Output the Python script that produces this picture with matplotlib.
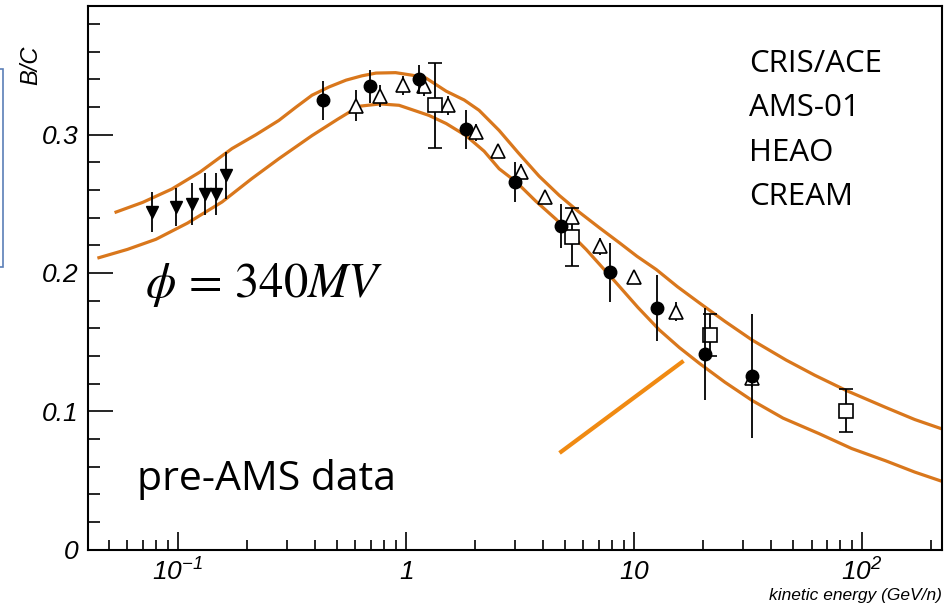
import matplotlib
matplotlib.use('Agg')
import matplotlib.pyplot as plt
from matplotlib.patches import Rectangle
from matplotlib.ticker import LogLocator, MultipleLocator, FixedLocator, FixedFormatter, NullFormatter

# model band (upper / lower modulated B/C)
up_e = [0.0535, 0.07, 0.0941, 0.125, 0.1725, 0.22, 0.277, 0.33, 0.387, 0.46, 0.546, 0.64, 0.738, 0.9,
        1.06, 1.22, 1.50, 1.8, 2.09, 2.56, 3.1, 3.83, 4.7, 5.74, 7.0, 8.59, 10.3, 12.5, 15.5, 19.3,
        25, 32.9, 46.4, 62, 85.1, 127, 170, 222]
up_bc = [0.244, 0.251, 0.2607, 0.273, 0.2899, 0.300, 0.3103, 0.320, 0.3285, 0.3345, 0.3394, 0.3425,
         0.3445, 0.3448, 0.343, 0.341, 0.3314, 0.325, 0.3176, 0.303, 0.287, 0.270, 0.256, 0.244, 0.233,
         0.222, 0.212, 0.2025, 0.190, 0.1784, 0.165, 0.1515, 0.137, 0.126, 0.115, 0.1027, 0.094, 0.0874]
lo_e = [0.045, 0.06, 0.080, 0.11, 0.156, 0.21, 0.277, 0.387, 0.5, 0.622, 0.77, 0.932, 1.26, 1.5, 1.83,
        2.2, 2.56, 3.04, 3.7, 4.54, 6.16, 8.33, 10.4, 12.9, 15.8, 19.3, 25, 32.9, 45, 64.7, 90, 127,
        170, 222]
lo_bc = [0.211, 0.217, 0.2243, 0.236, 0.2513, 0.268, 0.2826, 0.2993, 0.311, 0.3205, 0.3222, 0.3212,
         0.3139, 0.308, 0.2993, 0.288, 0.2753, 0.2658, 0.252, 0.2389, 0.217, 0.193, 0.175, 0.1588, 0.146,
         0.1347, 0.121, 0.1078, 0.095, 0.0838, 0.073, 0.0641, 0.056, 0.0495]

# CRIS/ACE
cris_e = [0.0769, 0.098, 0.115, 0.131, 0.147, 0.162]
cris_bc = [0.244, 0.2476, 0.2498, 0.2571, 0.2571, 0.2705]
cris_err = [0.0146, 0.014, 0.0155, 0.0155, 0.0155, 0.017]

# AMS-01
ams_e = [0.432, 0.695, 1.14, 1.83, 3.01, 4.79, 7.85, 12.6, 20.5, 32.9]
ams_bc = [0.3248, 0.335, 0.340, 0.3037, 0.2658, 0.2338, 0.2003, 0.1748, 0.1413, 0.1253]
ams_err = [0.014, 0.012, 0.0105, 0.014, 0.0146, 0.016, 0.021, 0.024, 0.033, 0.045]

# HEAO
heao_e = [0.604, 0.769, 0.970, 1.20, 1.53, 2.03, 2.53, 3.19, 4.07, 5.35, 7.10, 10.0, 15.3, 32.9]
heao_bc = [0.321, 0.3277, 0.3357, 0.3350, 0.3212, 0.3016, 0.2884, 0.2731, 0.2549, 0.2404, 0.2192,
           0.1974, 0.1719, 0.1238]
heao_err = [0.011, 0.008, 0.007, 0.007, 0.007, 0.006, 0.005, 0.006, 0.005, 0.005, 0.006, 0.005, 0.007, 0.006]

# CREAM
cream_e = [1.34, 5.35, 21.5, 85.0]
cream_bc = [0.3212, 0.2258, 0.155, 0.1005]
cream_err = [0.0306, 0.021, 0.015, 0.0157]

# the hand-drawn pointer line
arrow_e = [4.79, 16.2]
arrow_bc = [0.0707, 0.1355]

experiments = ['CRIS/ACE', 'AMS-01', 'HEAO', 'CREAM']
xtick_vals = [0.1, 1, 10, 100]
xtick_labels = [r'$10^{-1}$', r'$1$', r'$10$', r'$10^{2}$']
ytick_vals = [0, 0.1, 0.2, 0.3]
ytick_labels = ['0', '0.1', '0.2', '0.3']

plt.rcParams['mathtext.fontset'] = 'custom'
plt.rcParams['mathtext.rm'] = 'Liberation Sans:italic'
plt.rcParams['mathtext.it'] = 'Liberation Sans:italic'

orange = '#D9771C'
fig = plt.figure(figsize=(9.49, 6.08), dpi=100)
ax = fig.add_axes([88 / 949, (608 - 549.5) / 608, (942 - 88) / 949, (549.5 - 6) / 608])

ax.plot(up_e, up_bc, color=orange, lw=2.3, zorder=2)
ax.plot(lo_e, lo_bc, color=orange, lw=2.3, zorder=2)
ax.plot(arrow_e, arrow_bc, color='#F08A12', lw=3, zorder=2)

ax.errorbar(cris_e, cris_bc, yerr=cris_err, fmt='v', color='black', ms=8.5, elinewidth=1.3, zorder=4)
ax.errorbar(ams_e, ams_bc, yerr=ams_err, fmt='o', color='black', ms=9, elinewidth=1.3, zorder=4)
ax.errorbar(heao_e, heao_bc, yerr=heao_err, fmt='^', color='black', mfc='white', mec='black',
            mew=1.2, ms=10, elinewidth=1.3, zorder=3)
ax.errorbar(cream_e, cream_bc, yerr=cream_err, fmt='s', color='black', mfc='white', mec='black',
            mew=1.2, ms=9.5, elinewidth=1.3, capsize=5, capthick=1.3, zorder=3)

ax.set_xscale('log')
ax.set_xlim(0.0403, 224)
ax.set_ylim(0, 0.393)

ax.xaxis.set_major_locator(FixedLocator(xtick_vals))
ax.xaxis.set_major_formatter(FixedFormatter(xtick_labels))
ax.xaxis.set_minor_locator(LogLocator(base=10, subs=range(2, 10), numticks=20))
ax.xaxis.set_minor_formatter(NullFormatter())
ax.yaxis.set_major_locator(FixedLocator(ytick_vals))
ax.yaxis.set_major_formatter(FixedFormatter(ytick_labels))
ax.yaxis.set_minor_locator(MultipleLocator(0.02))

ax.tick_params(axis='both', which='both', direction='in', top=False, right=False, width=1.2, colors='black')
ax.tick_params(axis='x', which='major', length=13, pad=7, labelsize=19)
ax.tick_params(axis='x', which='minor', length=7)
ax.tick_params(axis='y', which='major', length=18, pad=7, labelsize=19)
ax.tick_params(axis='y', which='minor', length=8.6)
for lab in ax.get_yticklabels():
    lab.set_fontstyle('italic')
    lab.set_family('Liberation Sans')
for sp in ax.spines.values():
    sp.set_linewidth(1.5)

fig.text(942 / 949, 1 - 600 / 608, 'kinetic energy (GeV/n)', ha='right', va='baseline',
         fontsize=12.5, style='italic', family='Liberation Sans')
fig.text(31 / 949, 1 - 65 / 608, 'B/C', rotation=90, ha='center', va='center',
         fontsize=17, style='italic', family='Liberation Sans')

ax.text(145, 608 - 297, r'$\phi \,=\, 340MV$', transform=None, fontsize=35, math_fontfamily='stix',
        va='baseline', ha='left')

for i, name in enumerate(experiments):
    fig.text(749 / 949, 1 - (71.7 + 44.5 * i) / 608, name, fontsize=22.5, family='Open Sans',
             ha='left', va='baseline')
fig.text(137 / 949, 1 - 490 / 608, 'pre-AMS data', fontsize=29.5, family='Open Sans',
         ha='left', va='baseline')

# leftover slide box at the left edge
fig.patches.append(Rectangle((-20 / 949, 1 - 267 / 608), 23 / 949, 198 / 608, transform=fig.transFigure,
                             fill=False, edgecolor='#5B7FB8', lw=1.2))

fig.savefig('out.png', dpi=100)
